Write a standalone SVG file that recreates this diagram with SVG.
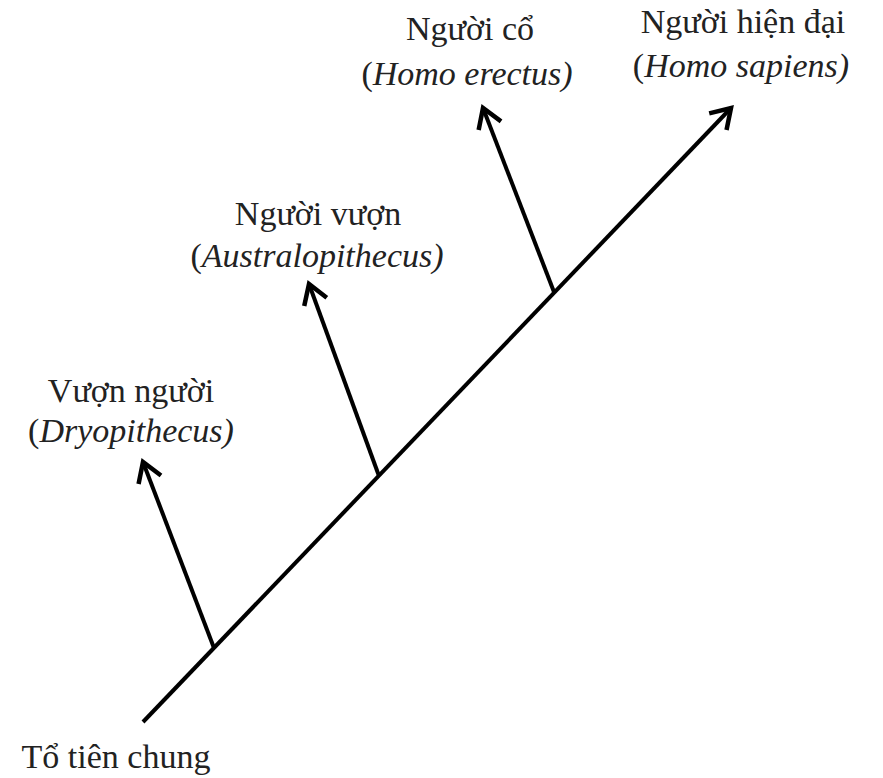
<svg xmlns="http://www.w3.org/2000/svg" width="883" height="778" viewBox="0 0 883 778">
<style>
text{font-family:"Liberation Serif","Times New Roman",serif;font-size:34px;fill:#222;text-anchor:middle}
.it{font-style:italic}
.ln{stroke:#000;stroke-width:4;fill:none;marker-end:url(#ah)}
</style>
<defs>
<marker id="ah" markerUnits="userSpaceOnUse" viewBox="-24 -16 28 32" refX="0" refY="0" markerWidth="28" markerHeight="32" orient="auto">
<path d="M-19,-12 L0,0 L-19,12" fill="none" stroke="#000" stroke-width="4.5" stroke-linejoin="miter"/>
</marker>
</defs>
<g id="connectors">
<line class="ln" x1="143" y1="722" x2="731" y2="108"/>
<line class="ln" x1="214" y1="648" x2="143" y2="462"/>
<line class="ln" x1="379" y1="476" x2="309" y2="284"/>
<line class="ln" x1="554" y1="292" x2="483" y2="108"/>
</g>
<g id="node-to-tien-chung"><text x="116" y="768">Tổ tiên chung</text></g>
<g id="node-vuon-nguoi"><text x="131" y="402">Vượn người</text><text x="131" y="442">(<tspan class="it">Dryopithecus)</tspan></text></g>
<g id="node-nguoi-vuon"><text x="318" y="225">Người vượn</text><text x="317" y="267"><tspan>(</tspan><tspan class="it">Australopithecus)</tspan></text></g>
<g id="node-nguoi-co"><text x="470" y="40">Người cổ</text><text x="467" y="85">(<tspan class="it">Homo erectus)</tspan></text></g>
<g id="node-nguoi-hien-dai"><text x="743" y="33">Người hiện đại</text><text x="741" y="77">(<tspan class="it">Homo sapiens)</tspan></text></g>
</svg>
